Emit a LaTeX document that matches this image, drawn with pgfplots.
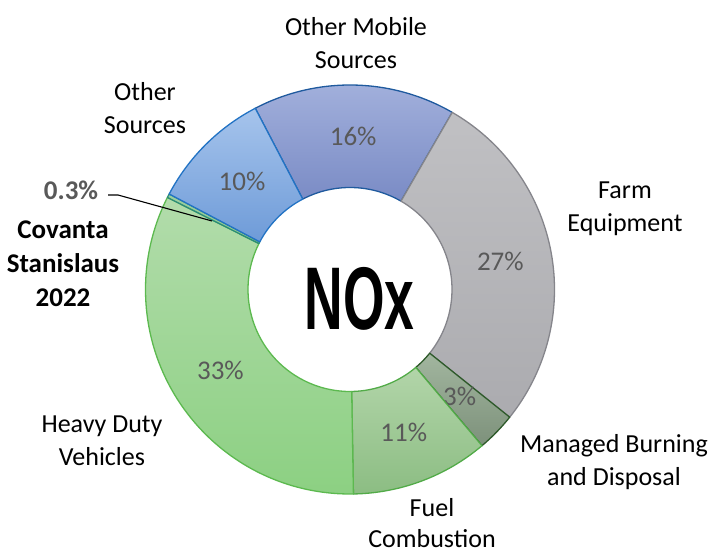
\documentclass[border=0pt]{standalone}
\usepackage{pgfplots}
\pgfplotsset{compat=1.18}
\usepackage{pgfplotstable}
\usepackage{fontspec}
\setmainfont{Carlito}
\newfontfamily\noxfont[FakeStretch=0.6]{Liberation Sans}

\definecolor{top0}{HTML}{A4B2DD}\definecolor{bot0}{HTML}{7A8BC5}\definecolor{edge0}{HTML}{1F5A9E}
\definecolor{top1}{HTML}{C0C0C3}\definecolor{bot1}{HTML}{ABABAF}\definecolor{edge1}{HTML}{85858B}
\definecolor{top2}{HTML}{A2B69F}\definecolor{bot2}{HTML}{7D917B}\definecolor{edge2}{HTML}{2E5A2A}
\definecolor{top3}{HTML}{B2D5A9}\definecolor{bot3}{HTML}{8CBD83}\definecolor{edge3}{HTML}{52AB48}
\definecolor{top4}{HTML}{B2DCAB}\definecolor{bot4}{HTML}{8CD082}\definecolor{edge4}{HTML}{5CB94F}
\definecolor{top5}{HTML}{9CCFA0}\definecolor{bot5}{HTML}{8CC890}\definecolor{edge5}{HTML}{2A8C78}
\definecolor{top6}{HTML}{A6C4EC}\definecolor{bot6}{HTML}{6E9BD8}\definecolor{edge6}{HTML}{2273C4}
\definecolor{pctgray}{HTML}{595959}

% NOx emission shares (percent), clockwise from the top-left
\pgfplotstableread{
source        value show
OtherMobile   16.0  1
Farm          27.4  1
Managed       3.1   1
Fuel          10.9  1
HeavyDuty     32.7  1
Covanta       0.3   0
OtherSources  9.6   1
}\noxdata

\begin{document}
\begin{tikzpicture}
\begin{axis}[name=ax, x=1pt, y=1pt, xmin=0, xmax=713, ymin=0, ymax=557,
  hide axis, scale only axis, clip=false]
\def\cum{-27.6}
\pgfplotsforeachungrouped \i in {0,...,6}{%
  \pgfplotstablegetelem{\i}{value}\of\noxdata
  \let\v\pgfplotsretval
  \pgfplotstablegetelem{\i}{show}\of\noxdata
  \let\s\pgfplotsretval
  \pgfmathsetmacro\aS{90-\cum}%
  \pgfmathsetmacro\aE{90-\cum-3.6*\v}%
  \pgfmathsetmacro\aM{(\aS+\aE)/2}%
  \pgfmathsetmacro\xo{350+204.5*cos(\aS)}%
  \pgfmathsetmacro\yo{267.5+204.5*sin(\aS)}%
  \pgfmathsetmacro\xin{350+102*cos(\aE)}%
  \pgfmathsetmacro\yin{267.5+102*sin(\aE)}%
  \pgfmathsetmacro\xm{350+153*cos(\aM)}%
  \pgfmathsetmacro\ym{267.5+153*sin(\aM)}%
  \pgfmathsetmacro\cum{\cum+3.6*\v}%
  \edef\cmd{\noexpand\path[top color=top\i, bottom color=bot\i, draw=edge\i, line width=1.3pt, line join=round]
    (axis cs:\xo,\yo) arc[start angle=\aS, end angle=\aE, radius=204.5pt]
    -- (axis cs:\xin,\yin) arc[start angle=\aE, end angle=\aS, radius=102pt] -- cycle;}%
  \cmd
  \ifnum\s=1
    \edef\cmd{\noexpand\node[font=\noexpand\fontsize{27}{32}\noexpand\selectfont, text=pctgray] at (axis cs:\xm,\ym) {\noexpand\pgfmathprintnumber[fixed,precision=0,assume math mode=true]{\v}\noexpand\%};}%
    \cmd
  \fi
}

\node[font=\noxfont\bfseries\fontsize{89}{89}\selectfont] at (axis cs:359.5,258) {NOx};

\node[font=\fontsize{26}{32.5}\selectfont, align=center] at (axis cs:356,514) {Other Mobile\\Sources};
\node[font=\fontsize{26}{32.5}\selectfont, align=center] at (axis cs:625,348) {Farm\\Equipment};
\node[font=\fontsize{26}{32.5}\selectfont, align=center] at (axis cs:614,95) {Managed Burning\\and Disposal};
\node[font=\fontsize{26}{31}\selectfont, align=center, inner sep=1pt] at (axis cs:432,34) {Fuel\\Combustion};
\node[font=\fontsize{26}{32.5}\selectfont, align=center] at (axis cs:102,116) {Heavy Duty\\Vehicles};
\node[font=\fontsize{26}{32.5}\selectfont, align=center] at (axis cs:145,449) {Other\\Sources};

\node[font=\fontsize{27}{34}\selectfont\bfseries, text=pctgray] at (axis cs:71,367) {0.3\%};
\node[font=\fontsize{27}{34}\selectfont\bfseries, align=center] at (axis cs:63,293.5) {Covanta\\Stanislaus\\2022};
\draw[black, line width=1.1pt] (axis cs:108,362) -- (axis cs:118,362) -- (axis cs:212,336);
\end{axis}
\pgfresetboundingbox
\path (ax.south west) rectangle (ax.north east);
\end{tikzpicture}
\end{document}
